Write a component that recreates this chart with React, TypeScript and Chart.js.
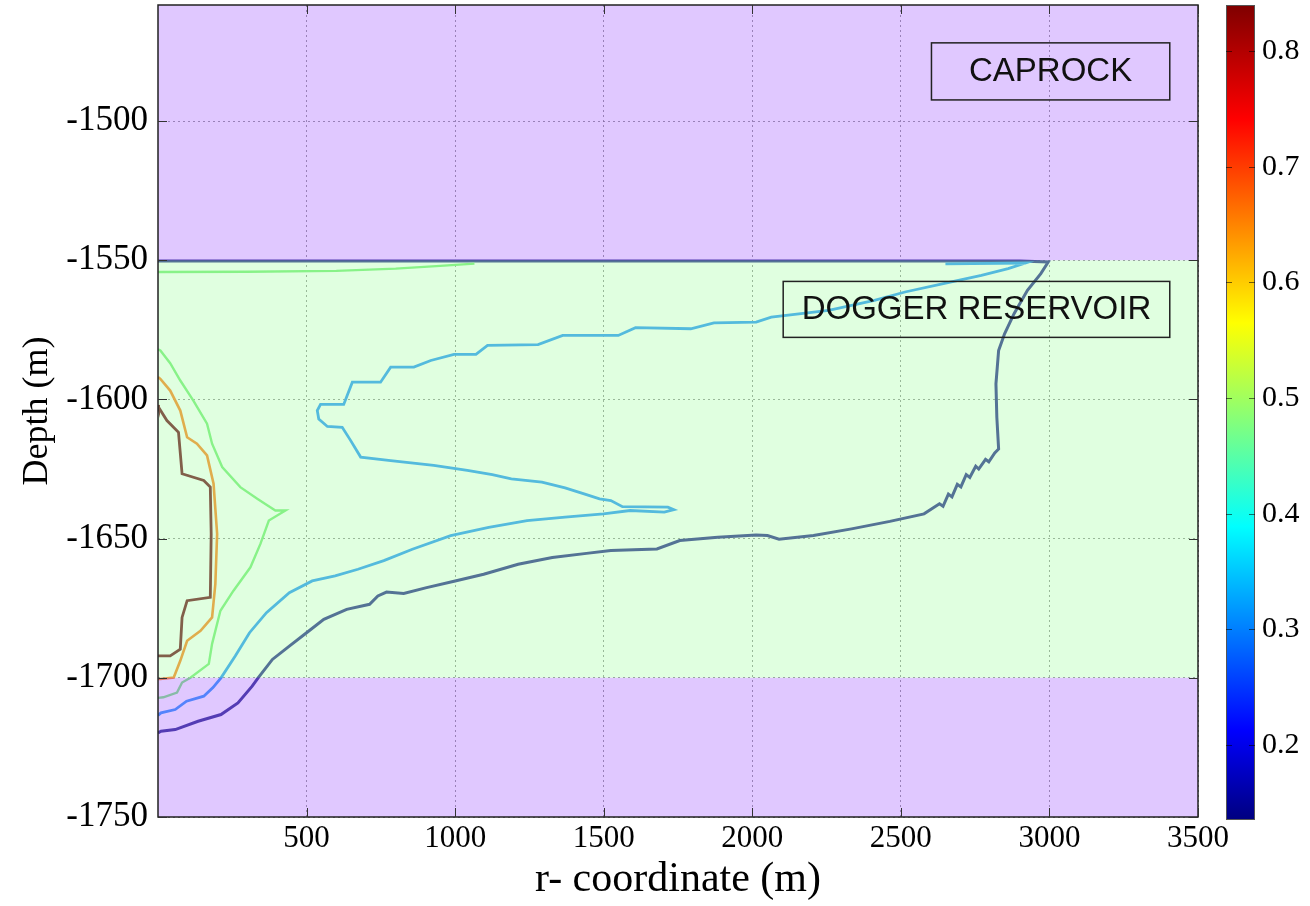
import { useEffect, useRef } from 'react';
import { Chart, registerables } from 'chart.js';

Chart.register(...registerables);

type Pt = [number, number];

// Axis extents and ticks
const R_MIN = 0;
const R_MAX = 3500;
const DEPTH_MIN = -1750;
const DEPTH_MAX = -1458.3;
const rTicks = [500, 1000, 1500, 2000, 2500, 3000, 3500];
const depthTicks = [-1750, -1700, -1650, -1600, -1550, -1500];

// Layer boundaries (m)
const caprockBase = -1550;
const reservoirBase = -1700;

// Colour bar range and ticks
const SAT_MIN = 0.135;
const SAT_MAX = 0.84;
const satTicks = [0.2, 0.3, 0.4, 0.5, 0.6, 0.7, 0.8];

// Contour lines: [r (m), depth (m)]
const contour020: Pt[] = [
  [0, -1719.8], [10, -1719.2], [58, -1718.6], [135, -1715.6], [212, -1713.2], [269, -1709],
  [317, -1703], [337, -1700], [385, -1693.4], [442, -1688.6], [500, -1683.8], [558, -1679],
  [635, -1675.4], [712, -1673.6], [740, -1670.6], [769, -1669.2], [827, -1669.7], [904, -1667.6],
  [1000, -1665.2], [1096, -1662.8], [1212, -1659.2], [1327, -1656.8], [1442, -1655.3], [1524, -1654.3],
  [1679, -1653.7], [1756, -1650.7], [1884, -1649.5], [2013, -1648.7], [2051, -1648.9], [2090, -1650.2],
  [2206, -1648.9], [2334, -1646.5], [2463, -1643.8], [2578, -1641.1], [2630, -1637.5], [2642, -1638.4],
  [2660, -1634], [2672, -1635], [2690, -1630.5], [2702, -1631.4], [2720, -1627], [2732, -1628],
  [2752, -1624], [2762, -1625], [2785, -1621.5], [2796, -1622.4], [2816, -1619.2], [2829, -1617.8],
  [2823, -1606.4], [2820, -1594.4], [2829, -1582.4], [2849, -1576.4], [2881, -1569.2], [2926, -1560.8],
  [2971, -1554.8], [2996, -1550.6], [2900, -1550.3], [0, -1550.3],
];

const contour038: Pt[] = [
  [0, -1713.5], [10, -1712.6], [58, -1711.4], [96, -1708.4], [154, -1706.6], [185, -1703.5],
  [212, -1700], [260, -1692.2], [308, -1683.8], [365, -1676.6], [442, -1669.4], [519, -1665.2],
  [596, -1663.4], [673, -1661], [760, -1657.9], [856, -1653.8], [985, -1648.9], [1113, -1646],
  [1242, -1643.5], [1370, -1642.3], [1499, -1641.1], [1589, -1639.9], [1704, -1640.5], [1736, -1639.6],
  [1716, -1638.7], [1563, -1638.5], [1524, -1636.3], [1486, -1635.7], [1434, -1633.9], [1370, -1631.8],
  [1292, -1629.7], [1189, -1628.5], [1125, -1627], [1041, -1625.5], [928, -1623.7], [783, -1622],
  [682, -1620.7], [648, -1614.7], [620, -1610], [570, -1609.7], [541, -1607], [536, -1604],
  [547, -1601.8], [625, -1601.8], [654, -1593.8], [749, -1593.8], [783, -1588.4], [861, -1588.4],
  [918, -1586], [996, -1583.8], [1070, -1583.8], [1109, -1580.6], [1279, -1580.3], [1362, -1577],
  [1549, -1577], [1607, -1574.2], [1793, -1574.6], [1871, -1572.5], [2013, -1572.2], [2064, -1570.4],
  [2257, -1568], [2411, -1564.4], [2514, -1561.4], [2643, -1558.4], [2771, -1555.4], [2861, -1553],
  [2919, -1551], [2650, -1551.3],
];

const contour050Top: Pt[] = [
  [0, -1554.2], [300, -1554.1], [600, -1553.8], [800, -1553], [950, -1552], [1065, -1551.2],
];

const contour050Wall: Pt[] = [
  [0, -1582], [8, -1582.4], [41, -1587], [75, -1593.2], [119, -1600.4], [165, -1608.7],
  [182, -1615.9], [216, -1624.3], [277, -1631.5], [334, -1635.7], [378, -1638.7], [395, -1639.9],
  [429, -1639.9], [373, -1643.5], [345, -1651.8], [311, -1660.3], [254, -1668.7], [210, -1675.9],
  [182, -1687.8], [171, -1695], [109, -1700], [81, -1701.7], [64, -1705.3], [18, -1707], [0, -1707.2],
];

const contour065: Pt[] = [
  [0, -1592], [8, -1592.6], [41, -1596.8], [75, -1604], [98, -1613.6], [131, -1615.9],
  [165, -1620.1], [187, -1630.3], [199, -1648.3], [193, -1666.3], [182, -1678.3], [143, -1683.1],
  [98, -1686.7], [75, -1693.9], [53, -1699.9], [8, -1700.4], [0, -1700.4],
];

const contour080: Pt[] = [
  [0, -1602], [2, -1602.8], [30, -1607.6], [69, -1611.8], [81, -1626.7], [154, -1629.1],
  [176, -1631.5], [179, -1648.3], [176, -1671.1], [98, -1672.3], [81, -1678.3], [75, -1689.7],
  [41, -1692.1], [0, -1692.1],
];

// Layer shading (drawn translucent over the contour lines)
const CAPROCK_FILL = 'rgba(166, 98, 255, 0.35)';
const RESERVOIR_FILL = 'rgba(166, 255, 166, 0.35)';

// Jet colour ramp stops for the colour bar
const jetStops: [number, string][] = [
  [0, '#00007f'], [0.11, '#0000ff'], [0.36, '#00ffff'], [0.61, '#ffff00'], [0.86, '#ff0000'], [1, '#7f0000'],
];

// Text boxes in data coordinates
const layerLabels = [
  { text: 'CAPROCK', r0: 2603, r1: 3405, d0: -1471.9, d1: -1492.4 },
  { text: 'DOGGER RESERVOIR', r0: 2104, r1: 3405, d0: -1557.6, d1: -1577.7 },
];

const toXY = (pts: Pt[]) => pts.map(([x, y]) => ({ x, y }));

const lineSet = (data: Pt[], color: string, width: number) => ({
  data: toXY(data),
  borderColor: color,
  borderWidth: width,
  pointRadius: 0,
  fill: false,
  tension: 0,
});

const bandSet = (y: number, fill: any, color: string) => ({
  data: [{ x: R_MIN, y }, { x: R_MAX, y }],
  borderColor: 'transparent',
  borderWidth: 0,
  pointRadius: 0,
  backgroundColor: color,
  fill,
  tension: 0,
});

const serif = 'Liberation Serif, "Times New Roman", serif';

const framePlugin = {
  id: 'frame',
  afterDraw(chart: any) {
    const { ctx, chartArea: a, scales } = chart;
    ctx.save();
    ctx.strokeStyle = '#222';
    ctx.lineWidth = 1.5;
    ctx.strokeRect(a.left, a.top, a.right - a.left, a.bottom - a.top);
    ctx.lineWidth = 1;
    ctx.strokeStyle = '#333';
    const tl = 9;
    ctx.beginPath();
    rTicks.forEach((v) => {
      const px = Math.round(scales.x.getPixelForValue(v)) + 0.5;
      ctx.moveTo(px, a.bottom); ctx.lineTo(px, a.bottom - tl);
      ctx.moveTo(px, a.top); ctx.lineTo(px, a.top + tl);
    });
    depthTicks.forEach((v) => {
      const py = Math.round(scales.y.getPixelForValue(v)) + 0.5;
      ctx.moveTo(a.left, py); ctx.lineTo(a.left + tl, py);
      ctx.moveTo(a.right, py); ctx.lineTo(a.right - tl, py);
    });
    ctx.stroke();

    // layer name boxes
    layerLabels.forEach((lb) => {
      const x0 = scales.x.getPixelForValue(lb.r0);
      const x1 = scales.x.getPixelForValue(lb.r1);
      const y0 = scales.y.getPixelForValue(lb.d0);
      const y1 = scales.y.getPixelForValue(lb.d1);
      ctx.strokeStyle = '#222';
      ctx.lineWidth = 1.5;
      ctx.strokeRect(x0, y0, x1 - x0, y1 - y0);
      ctx.fillStyle = '#111';
      ctx.font = '33px "Liberation Sans", Arial, sans-serif';
      ctx.textAlign = 'center';
      ctx.textBaseline = 'middle';
      ctx.fillText(lb.text, (x0 + x1) / 2, (y0 + y1) / 2 + 1);
    });
    ctx.restore();
  },
};

const colorBarPlugin = {
  id: 'colorbar',
  afterDraw(chart: any) {
    const { ctx, chartArea: a, scales } = chart;
    const ys = scales.y;
    ctx.save();
    const g = ctx.createLinearGradient(0, ys.getPixelForValue(SAT_MIN), 0, ys.getPixelForValue(SAT_MAX));
    jetStops.forEach(([f, c]) => g.addColorStop(f, c));
    ctx.fillStyle = g;
    ctx.fillRect(a.left, a.top, a.right - a.left, a.bottom - a.top);
    ctx.strokeStyle = '#555';
    ctx.lineWidth = 1;
    ctx.strokeRect(a.left + 0.5, a.top + 0.5, a.right - a.left - 1, a.bottom - a.top - 1);
    ctx.strokeStyle = 'rgba(0,0,0,0.55)';
    ctx.beginPath();
    satTicks.forEach((v) => {
      const py = Math.round(ys.getPixelForValue(v)) + 0.5;
      ctx.moveTo(a.left, py); ctx.lineTo(a.left + 6, py);
      ctx.moveTo(a.right, py); ctx.lineTo(a.right - 6, py);
    });
    ctx.stroke();
    ctx.restore();
  },
};

// Keep the plot box exactly where the layout padding puts it
const noEdgePadding = (s: any) => {
  s.paddingTop = 0;
  s.paddingBottom = 0;
  s.paddingLeft = 0;
  s.paddingRight = 0;
};

export default function App() {
  const mainRef = useRef<HTMLCanvasElement>(null);
  const barRef = useRef<HTMLCanvasElement>(null);

  useEffect(() => {
    if (!mainRef.current || !barRef.current) return;

    const main = new Chart(mainRef.current, {
      type: 'line',
      data: {
        datasets: [
          bandSet(caprockBase, 'end', CAPROCK_FILL),
          bandSet(reservoirBase, 'start', CAPROCK_FILL),
          bandSet(caprockBase, { value: reservoirBase }, RESERVOIR_FILL),
          lineSet(contour080, 'rgb(110, 10, 25)', 2.8),
          lineSet(contour065, 'rgb(255, 130, 30)', 2.6),
          lineSet(contour050Top, 'rgb(120, 235, 120)', 2.4),
          lineSet(contour050Wall, 'rgb(120, 235, 120)', 2.4),
          lineSet(contour038, 'rgb(40, 150, 250)', 2.8),
          lineSet(contour020, 'rgb(40, 40, 140)', 3),
        ] as any,
      },
      options: {
        responsive: false,
        animation: false,
        events: [],
        layout: { padding: { left: 0, right: 112, top: 5, bottom: 0 } },
        plugins: { legend: { display: false }, tooltip: { enabled: false } },
        scales: {
          x: {
            type: 'linear',
            min: R_MIN,
            max: R_MAX,
            afterBuildTicks: (s: any) => { s.ticks = rTicks.map((value) => ({ value })); },
            afterFit: (s: any) => { s.height = 89; noEdgePadding(s); },
            grid: { color: 'rgba(110,110,110,0.75)', lineWidth: 1, drawTicks: false },
            border: { display: false, dash: [2, 3] },
            ticks: {
              font: { family: serif, size: 31 },
              color: '#000',
              padding: 3,
              maxRotation: 0,
              callback: (v: any) => String(v),
            },
            title: {
              display: true,
              text: 'r- coordinate (m)',
              font: { family: serif, size: 42 },
              color: '#000',
              padding: { top: 0, bottom: 1 },
            },
          },
          y: {
            type: 'linear',
            min: DEPTH_MIN,
            max: DEPTH_MAX,
            afterBuildTicks: (s: any) => { s.ticks = depthTicks.map((value) => ({ value })); },
            afterFit: (s: any) => { s.width = 158; noEdgePadding(s); },
            grid: { color: 'rgba(110,110,110,0.75)', lineWidth: 1, drawTicks: false },
            border: { display: false, dash: [2, 3] },
            ticks: {
              font: { family: serif, size: 35 },
              color: '#000',
              padding: 10,
              callback: (v: any) => String(v),
            },
            title: {
              display: true,
              text: 'Depth (m)',
              font: { family: serif, size: 36 },
              color: '#000',
              padding: { top: 16, bottom: 0 },
            },
          },
        },
      },
      plugins: [framePlugin],
    } as any);

    const bar = new Chart(barRef.current, {
      type: 'line',
      data: { datasets: [] },
      options: {
        responsive: false,
        animation: false,
        events: [],
        layout: { padding: { left: 26, right: 0, top: 5, bottom: 86 } },
        plugins: { legend: { display: false }, tooltip: { enabled: false } },
        scales: {
          x: { type: 'linear', display: false, min: 0, max: 1 },
          y: {
            type: 'linear',
            position: 'right',
            min: SAT_MIN,
            max: SAT_MAX,
            afterBuildTicks: (s: any) => { s.ticks = satTicks.map((value) => ({ value })); },
            afterFit: (s: any) => { s.width = 55; noEdgePadding(s); },
            grid: { display: false, drawTicks: false },
            border: { display: false },
            ticks: {
              font: { family: serif, size: 30 },
              color: '#000',
              padding: 7,
              callback: (v: any) => Number(v).toFixed(1),
            },
          },
        },
      },
      plugins: [colorBarPlugin],
    } as any);

    return () => {
      main.destroy();
      bar.destroy();
    };
  }, []);

  return (
    <div style={{ position: 'absolute', left: 0, top: 0, width: 1310, height: 906, background: '#fff' }}>
      <canvas ref={mainRef} width={1310} height={906} style={{ position: 'absolute', left: 0, top: 0 }} />
      <canvas ref={barRef} width={110} height={906} style={{ position: 'absolute', left: 1200, top: 0 }} />
    </div>
  );
}
